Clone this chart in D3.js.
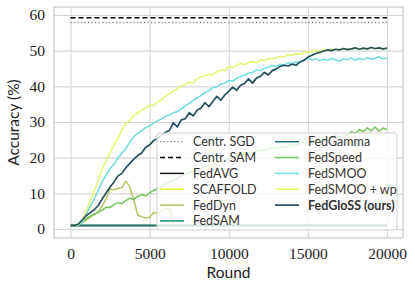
<!DOCTYPE html>
<html>
<head>
<meta charset="utf-8">
<script src="https://cdn.jsdelivr.net/npm/d3@7"></script>
<style>
  body { margin: 0; background: #fff; }
</style>
</head>
<body>
<div id="chart"></div>
<script>
// ===== DATA (accuracy in %, evaluated every 250 rounds) =====
var rounds = [0, 250, 500, 750, 1000, 1250, 1500, 1750, 2000, 2250, 2500, 2750, 3000, 3250, 3500, 3750,
  4000, 4250, 4500, 4750, 5000, 5250, 5500, 5750, 6000, 6250, 6500, 6750, 7000, 7250, 7500, 7750,
  8000, 8250, 8500, 8750, 9000, 9250, 9500, 9750, 10000, 10250, 10500, 10750, 11000, 11250, 11500, 11750,
  12000, 12250, 12500, 12750, 13000, 13250, 13500, 13750, 14000, 14250, 14500, 14750, 15000, 15250, 15500, 15750,
  16000, 16250, 16500, 16750, 17000, 17250, 17500, 17750, 18000, 18250, 18500, 18750, 19000, 19250, 19500, 19750, 20000];

// series that stay constant only need start and end round
var flatRounds = [0, 20000];

var centrSGD = [57.9, 57.9];
var centrSAM = [59.2, 59.2];
var fedAvg   = [1.0, 1.0];
var scaffold = [1.0, 1.0];
var fedSam   = [1.0, 1.0];
var fedGamma = [1.0, 1.0];

var fedDyn = [1, 1, 1.1, 1.7, 2.5, 3.3, 4.0, 4.8, 6.4, 8.5, 11.2, 11.0, 11.4, 11.6, 13.4, 11.8,
  8.2, 3.9, 3.4, 3.1, 3.3, 4.6, 4.4, 5.0, 5.6, 6.0, 1, 1, 1, 1, 1, 1,
  1, 1, 1, 1, 1, 1, 1, 1, 1, 1, 1, 1, 1, 1, 1, 1,
  1, 1, 1, 1, 1, 1, 1, 1, 1, 1, 1, 1, 1, 1, 1, 1,
  1, 1, 1, 1, 1, 1, 1, 1, 1, 1, 1, 1, 1, 1, 1, 1, 1];

var fedSpeed = [1, 1, 1.2, 2.0, 2.9, 3.6, 4.2, 4.6, 5.3, 6.1, 6.0, 6.9, 7.4, 7.1, 8.0, 8.6,
  8.3, 9.2, 9.6, 9.3, 10.1, 10.8, 11.4, 11.9, 12.6, 13.1, 13.7, 14.2, 14.9, 15.2, 15.8, 16.3,
  16.6, 17.1, 17.5, 17.8, 18.2, 18.6, 18.9, 19.3, 19.6, 19.9, 20.4, 20.6, 20.9, 21.3, 21.5, 21.8,
  22.1, 22.0, 22.4, 22.7, 22.5, 23.0, 22.8, 23.3, 23.6, 23.4, 23.9, 24.2, 24.0, 24.5, 24.8, 24.6,
  25.2, 25.0, 25.6, 26.3, 25.8, 26.7, 26.2, 27.3, 26.8, 27.9, 27.2, 28.4, 27.5, 28.6, 27.4, 28.3, 27.9];

var fedSmoo = [1, 1, 1.1, 1.8, 4.2, 6.5, 8.4, 10.8, 13.2, 15.1, 16.9, 18.2, 19.9, 21.3, 22.6, 24.4,
  25.9, 26.8, 27.6, 28.4, 28.9, 29.7, 30.3, 30.9, 31.6, 31.9, 32.6, 32.9, 33.7, 34.5, 35.2, 36.1,
  36.8, 37.4, 38.3, 38.8, 39.6, 39.9, 40.6, 40.9, 41.7, 41.4, 42.3, 42.8, 43.1, 43.7, 43.9, 44.6,
  44.4, 45.1, 45.3, 45.8, 45.6, 46.2, 46.0, 46.6, 46.4, 46.9, 46.7, 47.3, 47.9, 47.4, 47.7, 47.2,
  47.6, 47.3, 47.8, 47.4, 47.1, 47.7, 47.5, 47.9, 47.3, 47.8, 47.5, 48.1, 47.6, 47.9, 48.3, 47.7, 48.0];

var fedSmooWp = [1, 1, 1.3, 2.6, 5.2, 7.8, 10.6, 13.5, 16.8, 19.2, 21.3, 23.6, 25.4, 27.8, 29.6, 30.4,
  31.8, 32.5, 33.4, 33.9, 34.8, 34.6, 35.7, 36.2, 37.3, 37.9, 38.8, 39.2, 40.1, 40.4, 41.2, 41.0,
  42.1, 42.6, 42.9, 43.4, 43.2, 44.1, 44.6, 44.4, 45.6, 45.3, 45.9, 46.4, 46.1, 46.7, 46.9, 46.6,
  47.4, 47.2, 47.8, 47.6, 48.1, 48.4, 48.2, 48.9, 48.6, 49.2, 49.0, 49.6, 49.4, 49.9, 50.1, 49.8,
  50.3, 50.0, 50.4, 50.2, 50.5, 50.3, 50.6, 50.4, 50.7, 50.3, 50.6, 50.4, 50.8, 50.5, 50.7, 50.4, 50.6];

var fedGloss = [1, 1, 1.4, 2.6, 3.8, 4.6, 5.4, 6.6, 8.4, 10.1, 11.8, 13.2, 14.9, 15.6, 17.2, 18.4,
  19.6, 20.6, 21.3, 22.9, 23.6, 24.8, 25.3, 26.4, 27.1, 27.6, 29.8, 28.6, 30.6, 30.9, 32.6, 31.7,
  33.3, 33.9, 35.4, 34.3, 35.8, 37.2, 36.1, 37.6, 38.6, 39.8, 38.9, 40.3, 40.8, 42.1, 40.9, 42.3,
  42.8, 43.9, 43.2, 44.4, 44.9, 45.6, 45.9, 45.7, 46.2, 45.9, 46.8, 47.3, 48.2, 48.7, 49.2, 49.5,
  49.9, 50.2, 50.0, 50.4, 50.2, 50.6, 50.3, 50.5, 50.8, 50.4, 50.7, 50.5, 50.9, 50.6, 50.8, 50.5, 50.7];

var xTicks = [0, 5000, 10000, 15000, 20000];
var yTicks = [0, 10, 20, 30, 40, 50, 60];

// ===== ACCURACY vs ROUND (LINES) =====
function accuracy_chart()
{
  var w = 415;
  var h = 289;
  var left = 54, right = 403, top = 7, bottom = 238;

  var svg = d3.select("#chart")
              .append("svg")
              .attr("width", w)
              .attr("height", h);

  // a little padding around the data like matplotlib does
  var x = d3.scaleLinear()
            .domain([-1043, 21011])
            .range([left, right]);

  var y = d3.scaleLinear()
            .domain([-2.52, 62.24])
            .range([bottom, top]);

  // series in drawing order (last one on top)
  var series = [
    {name: "Centr. SGD", xs: flatRounds, ys: centrSGD, color: "#8a8a8a", width: 1.3, dash: "1.3,2.2"},
    {name: "Centr. SAM", xs: flatRounds, ys: centrSAM, color: "#000000", width: 1.5, dash: "5,3"},
    {name: "FedAVG", xs: flatRounds, ys: fedAvg, color: "#1a1a1a", width: 1.5},
    {name: "SCAFFOLD", xs: flatRounds, ys: scaffold, color: "#e9f04c", width: 1.5},
    {name: "FedDyn", xs: rounds, ys: fedDyn, color: "#b7c35e", width: 1.5},
    {name: "FedSAM", xs: flatRounds, ys: fedSam, color: "#23917f", width: 1.5},
    {name: "FedGamma", xs: flatRounds, ys: fedGamma, color: "#1d6f7c", width: 1.5},
    {name: "FedSpeed", xs: rounds, ys: fedSpeed, color: "#74c559", width: 1.5},
    {name: "FedSMOO", xs: rounds, ys: fedSmoo, color: "#70dcdc", width: 1.5},
    {name: "FedSMOO + wp", xs: rounds, ys: fedSmooWp, color: "#e3f76c", width: 1.5},
    {name: "FedGloSS (ours)", xs: rounds, ys: fedGloss, color: "#27505f", width: 1.7, bold: true}
  ];

  var gridColor = "#d6d6d6";

  // vertical grid + x tick labels
  var xAxis = d3.axisBottom(x)
                .tickValues(xTicks)
                .tickSize(-(bottom - top))
                .tickPadding(10)
                .tickFormat(function(d) { return d; });

  svg.append("g")
     .attr("transform", "translate(0," + bottom + ")")
     .call(xAxis)
     .call(function(g) {
       g.select(".domain").remove();
       g.selectAll(".tick line").attr("stroke", gridColor).attr("stroke-width", 1.1);
       g.selectAll(".tick text")
        .attr("fill", "#222")
        .attr("font-family", "'Liberation Serif', serif")
        .attr("font-size", "15.5px");
     });

  // horizontal grid + y tick labels
  var yAxis = d3.axisLeft(y)
                .tickValues(yTicks)
                .tickSize(-(right - left))
                .tickPadding(9);

  svg.append("g")
     .attr("transform", "translate(" + left + ",0)")
     .call(yAxis)
     .call(function(g) {
       g.select(".domain").remove();
       g.selectAll(".tick line").attr("stroke", gridColor).attr("stroke-width", 1.1);
       g.selectAll(".tick text")
        .attr("fill", "#222")
        .attr("font-family", "'Liberation Serif', serif")
        .attr("font-size", "15.5px");
     });

  // frame
  svg.append("rect")
     .attr("x", left)
     .attr("y", top)
     .attr("width", right - left)
     .attr("height", bottom - top)
     .attr("fill", "none")
     .attr("stroke", "#cccccc")
     .attr("stroke-width", 1.3);

  var line = d3.line()
               .x(function(d) { return x(d[0]); })
               .y(function(d) { return y(d[1]); });

  svg.selectAll("path.series")
     .data(series)
     .enter()
     .append("path")
     .attr("class", "series")
     .attr("d", function(s) {
       return line(s.xs.map(function(r, i) { return [r, s.ys[i]]; }));
     })
     .attr("fill", "none")
     .attr("stroke", function(s) { return s.color; })
     .attr("stroke-width", function(s) { return s.width; })
     .attr("stroke-dasharray", function(s) { return s.dash || null; })
     .attr("stroke-linejoin", "round");

  // axis titles
  svg.append("text")
     .attr("x", (left + right) / 2)
     .attr("y", 278)
     .attr("text-anchor", "middle")
     .attr("font-family", "Lato, sans-serif")
     .attr("font-size", "15.5px")
     .attr("fill", "#222")
     .text("Round");

  svg.append("text")
     .attr("transform", "translate(19," + (top + bottom) / 2 + ") rotate(-90)")
     .attr("text-anchor", "middle")
     .attr("font-family", "Lato, sans-serif")
     .attr("font-size", "15.5px")
     .attr("fill", "#222")
     .text("Accuracy (%)");

  // legend, two columns of six / five
  var legend = svg.append("g");

  legend.append("rect")
        .attr("x", 157)
        .attr("y", 133)
        .attr("width", 240)
        .attr("height", 97)
        .attr("rx", 3)
        .attr("fill", "#ffffff")
        .attr("fill-opacity", 0.8)
        .attr("stroke", "#d0d0d0")
        .attr("stroke-width", 1);

  var items = legend.selectAll("g.item")
                    .data(series)
                    .enter()
                    .append("g")
                    .attr("class", "item")
                    .attr("transform", function(s, i) {
                      var col = i < 6 ? 0 : 1;
                      var row = i < 6 ? i : i - 6;
                      return "translate(" + (col ? 275 : 160) + "," + (141.7 + row * 15.85) + ")";
                    });

  items.append("line")
       .attr("x1", 0)
       .attr("x2", 24)
       .attr("stroke", function(s) { return s.color; })
       .attr("stroke-width", function(s) { return s.width; })
       .attr("stroke-dasharray", function(s) { return s.dash || null; });

  items.append("text")
       .attr("x", 33)
       .attr("y", 4.5)
       .attr("font-family", "Lato, sans-serif")
       .attr("font-size", "12.5px")
       .attr("font-weight", function(s) { return s.bold ? "bold" : "normal"; })
       .attr("fill", "#333")
       .text(function(s) { return s.name; });
}

function init(){
  accuracy_chart();
}

window.onload = init
</script>
</body>
</html>
